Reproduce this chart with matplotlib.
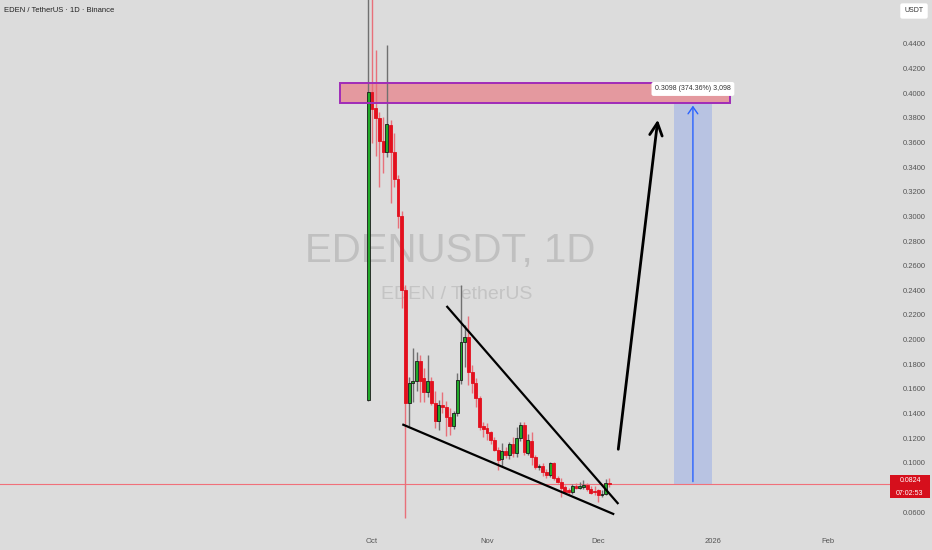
import matplotlib
matplotlib.use("Agg")
import matplotlib.pyplot as plt
import matplotlib.dates as mdates
import matplotlib.transforms as mtransforms
from matplotlib.patches import Rectangle
import pandas as pd

# ---------------- data ----------------
start_date = "2025-09-30"
opens = [0.151, 0.401, 0.388, 0.380, 0.361, 0.352, 0.374, 0.352, 0.330, 0.300,
         0.240, 0.1485, 0.1647, 0.1664, 0.1826, 0.1688, 0.1574, 0.1664, 0.1485, 0.134,
         0.1469, 0.1452, 0.1371, 0.1298, 0.1404, 0.1672, 0.198, 0.2021, 0.174, 0.165,
         0.1525, 0.1298, 0.128, 0.125, 0.1184, 0.110, 0.103, 0.1095, 0.1063, 0.1152,
         0.108, 0.120, 0.1306, 0.108, 0.118, 0.105, 0.0965, 0.0975, 0.0925, 0.090,
         0.0998, 0.0876, 0.0843, 0.0803, 0.0778, 0.0762, 0.0811, 0.0795, 0.0803, 0.0819,
         0.0787, 0.0770, 0.0778, 0.0738, 0.0745, 0.0835]
highs = [0.520, 0.500, 0.435, 0.385, 0.381, 0.439, 0.378, 0.368, 0.334, 0.304,
         0.244, 0.170, 0.193, 0.190, 0.1875, 0.177, 0.1875, 0.170, 0.158, 0.151,
         0.1574, 0.150, 0.1444, 0.142, 0.1725, 0.2443, 0.212, 0.219, 0.179, 0.169,
         0.154, 0.133, 0.1323, 0.126, 0.121, 0.1128, 0.116, 0.1128, 0.117, 0.121,
         0.129, 0.133, 0.133, 0.123, 0.125, 0.106, 0.099, 0.0995, 0.095, 0.101,
         0.1005, 0.089, 0.0876, 0.0819, 0.0795, 0.0827, 0.0835, 0.0843, 0.086, 0.0835,
         0.0811, 0.0811, 0.079, 0.078, 0.0868, 0.0876]
lows = [0.150, 0.360, 0.349, 0.324, 0.335, 0.348, 0.311, 0.324, 0.291, 0.226,
        0.055, 0.130, 0.149, 0.158, 0.149, 0.149, 0.153, 0.1465, 0.128, 0.1266,
        0.140, 0.122, 0.1225, 0.127, 0.138, 0.164, 0.178, 0.163, 0.157, 0.145,
        0.1266, 0.121, 0.1184, 0.115, 0.1095, 0.094, 0.0965, 0.104, 0.103, 0.105,
        0.105, 0.118, 0.106, 0.106, 0.098, 0.095, 0.094, 0.089, 0.088, 0.0885,
        0.086, 0.0835, 0.0722, 0.0754, 0.0745, 0.0745, 0.0787, 0.0787, 0.0787, 0.077,
        0.0745, 0.0738, 0.0681, 0.072, 0.0735, 0.0803]
closes = [0.401, 0.387, 0.380, 0.361, 0.352, 0.375, 0.352, 0.330, 0.300, 0.240,
          0.1485, 0.1647, 0.1664, 0.1826, 0.1664, 0.1574, 0.1664, 0.1485, 0.134, 0.1469,
          0.1455, 0.1371, 0.1298, 0.1404, 0.1672, 0.198, 0.2021, 0.174, 0.165, 0.1525,
          0.129, 0.1274, 0.124, 0.1184, 0.110, 0.102, 0.1095, 0.1063, 0.1152, 0.108,
          0.120, 0.1306, 0.109, 0.1184, 0.105, 0.0965, 0.0975, 0.0925, 0.090, 0.0998,
          0.0876, 0.0843, 0.0795, 0.0762, 0.0762, 0.0811, 0.0795, 0.0811, 0.0819, 0.0787,
          0.0754, 0.0762, 0.0738, 0.0745, 0.0835, 0.0824]

last_price = 0.0824
countdown = "07:02:53"
zone_low, zone_high = 0.3922, 0.4083
zone_dates = ("2025-09-22 10:00", "2026-01-05 12:00")
proj_dates = ("2025-12-21 10:00", "2025-12-31 14:00")
proj_arrow_date = "2025-12-26 12:00"
proj_label = "0.3098 (374.36%) 3,098"
upper_wedge = (("2025-10-21 02:00", 0.2273), ("2025-12-06 10:00", 0.0665))
lower_wedge = (("2025-10-09 04:00", 0.1312), ("2025-12-05 07:00", 0.0581))
big_arrow = (("2025-12-06 07:00", 0.1087), ("2025-12-17 03:00", 0.3807))
# 0.0800 is hidden behind the last-price label in the reference
yticks = [0.06, 0.10, 0.12, 0.14, 0.16, 0.18, 0.20, 0.22, 0.24,
          0.26, 0.28, 0.30, 0.32, 0.34, 0.36, 0.38, 0.40, 0.42, 0.44]
xtick_dates = ["2025-10-01", "2025-11-01", "2025-12-01", "2026-01-01", "2026-02-01"]
xtick_labels = ["Oct", "Nov", "Dec", "2026", "Feb"]

# ---------------- style ----------------
BG = "#dcdcdc"
GREEN = "#22aa2a"
RED = "#e3101e"
RED_WICK = "#e8707a"
GREEN_WICK = "#707070"
plt.rcParams["font.family"] = ["Liberation Sans", "DejaVu Sans"]

W, H = 932, 550
fig = plt.figure(figsize=(W / 100, H / 100), dpi=100, facecolor=BG)
ax = fig.add_axes([0, 20 / H, 890 / W, 530 / H], facecolor=BG)

d = lambda s: mdates.date2num(pd.Timestamp(s))
dates = mdates.date2num(pd.date_range(start_date, periods=len(opens), freq="D"))

oct1 = d("2025-10-01")
ax.set_xlim(oct1 - 372 / 3.71, oct1 + 518 / 3.71)
ax.set_ylim(0.44 - 486 / 1231.6, 0.44 + 44 / 1231.6)

# watermark
ax.text(0.5056, 0.527, "EDENUSDT, 1D", transform=ax.transAxes, ha="center", va="center",
        fontsize=29, color="#c0c0c0", zorder=0)
ax.text(0.5135, 0.445, "EDEN / TetherUS", transform=ax.transAxes, ha="center", va="center",
        fontsize=14, color="#c4c4c4", zorder=0)

# resistance zone
zx0, zx1 = d(zone_dates[0]), d(zone_dates[1])
ax.add_patch(Rectangle((zx0, zone_low), zx1 - zx0, zone_high - zone_low,
                       facecolor="#f23645", alpha=0.4, edgecolor="none", zorder=1))
ax.add_patch(Rectangle((zx0, zone_low), zx1 - zx0, zone_high - zone_low,
                       facecolor="none", edgecolor="#a02cb8", lw=1.4, zorder=5))

# projection box
px0, px1 = d(proj_dates[0]), d(proj_dates[1])
ax.add_patch(Rectangle((px0, last_price), px1 - px0, zone_low - last_price,
                       facecolor="#2962ff", alpha=0.2, edgecolor="none", zorder=1))
pa = d(proj_arrow_date)
ax.annotate("", xy=(pa, zone_low), xytext=(pa, last_price),
            arrowprops=dict(arrowstyle="->,head_length=0.5,head_width=0.35",
                            color="#2962ff", lw=1.0), zorder=3)

# price line
ax.axhline(last_price, color="#f0707a", lw=0.8, zorder=2)

# candles
for x, o, h, l, c in zip(dates, opens, highs, lows, closes):
    up = c >= o
    ax.vlines(x, l, h, color=GREEN_WICK if up else RED_WICK, lw=1.0, zorder=3)
    body_h = max(abs(c - o), 0.0012)
    ax.bar(x, body_h, bottom=min(o, c), width=0.78,
           color=GREEN if up else RED,
           edgecolor="#1a1a1a" if up else RED, linewidth=0.6, zorder=4)

# wedge lines
for (a, b) in (upper_wedge, lower_wedge):
    ax.plot([d(a[0]), d(b[0])], [a[1], b[1]], color="black", lw=1.6, zorder=6,
            solid_capstyle="butt")

# big arrow
ax.annotate("", xy=(d(big_arrow[1][0]), big_arrow[1][1]),
            xytext=(d(big_arrow[0][0]), big_arrow[0][1]),
            arrowprops=dict(arrowstyle="->,head_length=0.9,head_width=0.45",
                            color="black", lw=2.0), zorder=6)

# projection label
ax.text((px0 + px1) / 2, 0.4035, proj_label, ha="center", va="center", fontsize=5,
        color="#333333", zorder=8,
        bbox=dict(boxstyle="round,pad=0.5,rounding_size=0.3", fc="white", ec="none"))

# axes styling
for s in ax.spines.values():
    s.set_visible(False)
ax.yaxis.tick_right()
ax.set_yticks(yticks)
ax.set_yticklabels([f"{v:.4f}" for v in yticks])
ax.tick_params(axis="y", length=0, pad=9, labelsize=5.5, labelcolor="#555555")
ax.set_xticks([d(s) for s in xtick_dates])
ax.set_xticklabels(xtick_labels)
ax.tick_params(axis="x", length=0, pad=6, labelsize=5.5, labelcolor="#555555")

# last price label on axis
blend = mtransforms.blended_transform_factory(ax.transAxes, ax.transData)
ax.add_patch(Rectangle((1.0, last_price - 0.0112), 40 / 890, 0.0188, transform=blend,
                       facecolor="#d60f1c", edgecolor="none", clip_on=False, zorder=10))
ax.text(1.0 + 20 / 890, last_price + 0.0030, f"{last_price:.4f}", transform=blend,
        ha="center", va="center", fontsize=5, color="white", zorder=11, clip_on=False)
ax.text(1.0 + 20 / 890, last_price - 0.0070, countdown, transform=blend,
        ha="center", va="center", fontsize=5, color="white", zorder=11, clip_on=False)

# title and currency box
fig.text(4 / W, 1 - 10 / H, "EDEN / TetherUS · 1D · Binance", fontsize=5.5,
         color="#222222", ha="left", va="center")
fig.text(914 / W, 1 - 11 / H, "USDT", fontsize=5, color="#333333", ha="center",
         va="center", bbox=dict(boxstyle="round,pad=0.6,rounding_size=0.3", fc="white", ec="none"))

fig.savefig("out.png", dpi=100, facecolor=BG)
